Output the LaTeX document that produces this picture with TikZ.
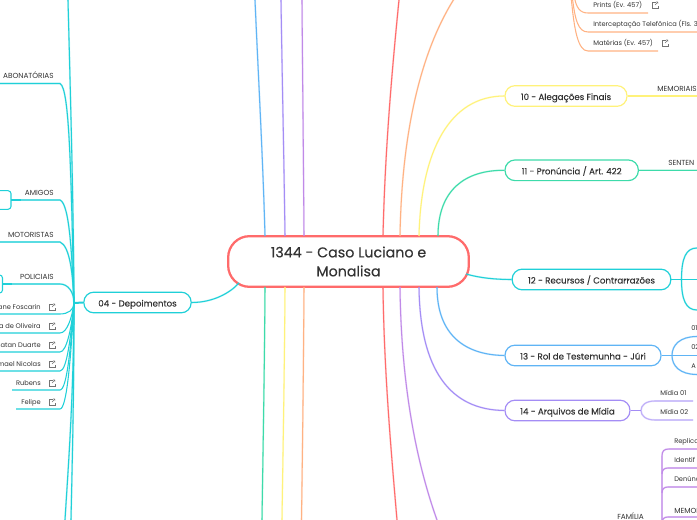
\documentclass[tikz,border=0pt]{standalone}
\usepackage{fontspec}
\setmainfont{Poppins}
\newfontfamily\hubfont[FakeBold=0.25]{Poppins}
\definecolor{cred}{HTML}{FF6B6B}
\definecolor{ccy}{HTML}{1FD0D8}
\definecolor{cyel}{HTML}{FFF27A}
\definecolor{cgrn}{HTML}{3DDBAA}
\definecolor{cblu}{HTML}{5FB4F5}
\definecolor{cvio}{HTML}{A48DF5}
\definecolor{cpur}{HTML}{C08AE8}
\definecolor{corg}{HTML}{FFB283}
\definecolor{ctxt}{HTML}{333333}
\tikzset{
  branch/.style={draw=#1,line width=0.9pt,fill=white,rectangle,rounded corners=7.5pt,minimum height=15.5pt,inner sep=0pt,text=ctxt,text height=6pt,text depth=0pt,font=\hubfont\fontsize{6.5pt}{9pt}\selectfont},
  hub/.style={draw=cred,line width=1.7pt,fill=white,rectangle,rounded corners=16pt,minimum width=180.5pt,minimum height=38pt,align=center,inner sep=0pt,text=ctxt,font=\hubfont\fontsize{10.7pt}{14.2pt}\selectfont},
  lnk/.style={draw=#1,line width=0.8pt,preaction={draw=#1,line width=1.4pt,opacity=.25}},
  sublnk/.style={draw=#1,line width=0.8pt},
  leaf/.style={inner sep=0pt,text=ctxt,text height=3.6pt,text depth=1.2pt,yshift=-0.5pt,font=\fontsize{5pt}{6pt}\selectfont},
  capt/.style={inner sep=0pt,text=ctxt,text height=3.6pt,text depth=1.2pt,yshift=-0.8pt,font=\fontsize{5.5pt}{6pt}\selectfont},
  extico/.pic={
    \draw[line width=0.3pt,draw=black!55] (1,-3) -- (-3,-3) -- (-3,3) -- (3,3) -- (3,1);
    \draw[line width=0.3pt,draw=black!55] (0,0) -- (3,-3) (1,-3.2) -- (3,-3) -- (3,-1);
  }
}
\begin{document}
\begin{tikzpicture}[x=0.75pt,y=-0.75pt]
\useasboundingbox (0,0) rectangle (697,520);
\clip (0,0) rectangle (697,520);
% nodes
\node[hub] (ctr) at (348.5,261.5) {1344 - Caso Luciano e\\Monalisa};
\node[branch=ccy,minimum width=80.5pt] (n04) at (137.5,302.5) {04 - Depoimentos};
\node[branch=cyel,minimum width=91.5pt] (n10) at (566,96) {10 - Alegações Finais};
\node[branch=cgrn,minimum width=100pt] (n11) at (571.7,170.3) {11 - Pronúncia / Art. 422};
\node[branch=ccy,minimum width=119pt] (n12) at (591.5,279.5) {12 - Recursos / Contrarrazões};
\node[branch=cblu,minimum width=117pt] (n13) at (583,355.5) {13 - Rol de Testemunha - Júri};
\node[branch=cvio,minimum width=93.7pt] (n14) at (567.5,410.5) {14 - Arquivos de Mídia};
% anchor points on the central node
\coordinate (cN1) at (265,236); \coordinate (cN2) at (285,236); \coordinate (cN3) at (304,236);
\coordinate (cN4) at (383,236); \coordinate (cN5) at (400,236); \coordinate (cN6) at (419,236); \coordinate (cN7) at (438,236);
\coordinate (cS1) at (265,287); \coordinate (cS2) at (285,287); \coordinate (cS3) at (304,287);
\coordinate (cS4) at (383,287); \coordinate (cS5) at (400,287); \coordinate (cS6) at (419,287); \coordinate (cS7) at (437,287);
\coordinate (J) at (74,303);
% main links
\draw[lnk=cblu] (cN1) .. controls (263,160) and (258,70) .. (255,0);
\draw[lnk=cvio] (cN2) .. controls (284,160) and (282,70) .. (281,0);
\draw[lnk=cpur] (cN3) .. controls (303.5,160) and (302.5,70) .. (302,0);
\draw[lnk=cred] (cN4) .. controls (385,150) and (392,70) .. (399,0);
\draw[lnk=corg] (cN5) .. controls (402,120) and (425,40) .. (460,-10);
\draw[lnk=cyel] (cN6) .. controls (421,150) and (450,96) .. (n10.west);
\draw[lnk=cgrn] (cN7) .. controls (438,190) and (465,170) .. (n11.west);
\draw[lnk=ccy] (466,274) .. controls (480,278) and (495,279.5) .. (n12.west);
\draw[lnk=cblu] (cS7) .. controls (437,335) and (465,355) .. (n13.west);
\draw[lnk=cvio] (cS6) .. controls (420,370) and (450,410) .. (n14.west);
\draw[lnk=cpur] (cS5) .. controls (401,370) and (412,450) .. (437,520);
\draw[lnk=cred] (cS4) .. controls (384,370) and (391,450) .. (397,520);
\draw[lnk=cgrn] (cS1) .. controls (264.5,370) and (263,450) .. (262,520);
\draw[lnk=cyel] (cS2) .. controls (284.5,370) and (283,450) .. (282,520);
\draw[lnk=corg] (cS3) .. controls (303.5,370) and (302.5,450) .. (301.5,520);
\draw[lnk=ccy] (n04.east) .. controls (213,302.5) and (230,293) .. (239,283);
% left trunk
\draw[ccy,line width=1.5pt] (n04.west) -- (J);
\draw[lnk=ccy] (J) .. controls (73.5,200) and (70,80) .. (68,0);
\draw[lnk=ccy] (J) .. controls (73.5,400) and (68,470) .. (65,520);
\draw[lnk=ccy] (J) .. controls (74,400) and (72,470) .. (71,520);
\draw[lnk=ccy] (0,83.5) -- (60,83.5) .. controls (70,88) and (71,180) .. (J);
\draw[lnk=ccy] (21,200) -- (60,200) .. controls (70,204) and (72,260) .. (J);
\draw[lnk=ccy] (0,242) -- (60,242) .. controls (70,246) and (73,275) .. (J);
\draw[lnk=ccy] (12,284) -- (60,284) .. controls (68,284) and (74,292) .. (J);
\draw[sublnk=ccy] (0,314) -- (60,314) .. controls (68,314) and (74,310) .. (J);
\draw[sublnk=ccy] (0,333) -- (60,333) .. controls (67,333) and (72,318) .. (J);
\draw[sublnk=ccy] (0,352) -- (60,352) .. controls (67,352) and (72,325) .. (J);
\draw[sublnk=ccy] (0,371) -- (60,371) .. controls (67,371) and (71,335) .. (J);
\draw[sublnk=ccy] (12,390) -- (60,390) .. controls (67,390) and (71,345) .. (J);
\draw[sublnk=ccy] (16,409) -- (60,409) .. controls (67,409) and (71,355) .. (J);
% left brackets
\draw[ccy,line width=1.5pt] (11,200) -- (21,200);
\draw[sublnk=ccy,rounded corners=2.2pt] (0,190.7) -- (11,190.7) -- (11,209.3) -- (0,209.3);
\draw[ccy,line width=1.5pt] (2.5,284) -- (12,284);
\draw[sublnk=ccy,rounded corners=2.2pt] (-5,275) -- (2.5,275) -- (2.5,293) -- (-5,293);
% left labels
\node[capt,anchor=east] (tAbo) at (54,76) {ABONATÓRIAS};
\node[capt,anchor=east] (tAmi) at (54,192.5) {AMIGOS};
\node[capt,anchor=east] (tMot) at (54,234.5) {MOTORISTAS};
\node[capt,anchor=east] (tPol) at (54,276.5) {POLICIAIS};
\node[leaf,anchor=east] (tL1) at (41,307.5) {ane Foscarin};
\node[leaf,anchor=east] (tL2) at (41,326.5) {a de Oliveira};
\node[leaf,anchor=east] (tL3) at (41,345.5) {natan Duarte};
\node[leaf,anchor=east] (tL4) at (41,364.5) {mael Nicolas};
\node[leaf,anchor=east] (tL5) at (41,383.5) {Rubens};
\node[leaf,anchor=east] (tL6) at (41,402.5) {Felipe};
\foreach \yy in {307,326,345,364,383,402} {\pic at (52,\yy) {extico};}
% right top orange
\draw[sublnk=corg] (574,-5) .. controls (576,8) and (580,13) .. (588,13) -- (648,13);
\draw[sublnk=corg] (572,-5) .. controls (575,20) and (578,32) .. (588,32) -- (697,32);
\draw[sublnk=corg] (571,-5) .. controls (574,30) and (578,51) .. (588,51) -- (658,51);
\node[leaf,anchor=west] (tP) at (593,5.5) {Prints (Ev. 457)};
\node[leaf,anchor=west] (tI) at (593,24.5) {Interceptação Telefônica (Fls. 3};
\node[leaf,anchor=west] (tM) at (593,43.5) {Matérias (Ev. 457)};
\pic at (655,5) {extico};
\pic at (665,43) {extico};
% right branches
\draw[lnk=cyel] (n10.east) -- (697,96);
\draw[lnk=cgrn] (n11.east) -- (697,170.3);
\node[capt,anchor=west] (tMem) at (657,88.5) {MEMORIAIS};
\node[capt,anchor=west] (tSen) at (668,162.5) {SENTEN};
\draw[sublnk=ccy] (n12.east) -- (697,279.5);
\draw[lnk=ccy] (697,248) .. controls (686,248) and (681.5,258) .. (681.5,279.5) .. controls (681.5,300) and (686,310) .. (697,310);
\draw[sublnk=cblu] (n13.east) -- (697,355.5);
\draw[lnk=cblu] (697,336.5) .. controls (680,336.5) and (672,345) .. (672,355.5) .. controls (672,366) and (680,374.5) .. (697,374.5);
\node[leaf,anchor=west] (t01) at (691,328.5) {01};
\node[leaf,anchor=west] (t02) at (691,347.5) {02};
\node[leaf,anchor=west] (tA) at (691,366.5) {A};
\draw[sublnk=cvio] (n14.east) -- (641,410.5);
\draw[lnk=cvio,opacity=.6] (693,401) -- (655,401) .. controls (646,401) and (641,405) .. (641,410.5) .. controls (641,416) and (646,420) .. (655,420) -- (693,420);
\node[leaf,anchor=west] (tM1) at (660,393.5) {Mídia 01};
\node[leaf,anchor=west] (tM2) at (660,412.5) {Mídia 02};
\pic at (700,393) {extico};
% lower right purple
\draw[lnk=cpur] (697,449) -- (669,449) .. controls (664,449) and (662,451) .. (662,456) -- (662,525);
\draw[lnk=cpur] (697,468) -- (668,468) .. controls (664,468) and (662,470) .. (662,474);
\draw[lnk=cpur] (697,487) -- (668,487) .. controls (664,487) and (662,489) .. (662,493);
\draw[lnk=cpur] (697,517) -- (668,517) .. controls (664,517) and (662,519) .. (662,523);
\node[leaf,anchor=west] (tR) at (674,441.5) {Replica};
\node[leaf,anchor=west] (tId) at (674,460.5) {Identif};
\node[leaf,anchor=west] (tDe) at (674,479.5) {Denúnc};
\node[capt,anchor=west] (tMe) at (674,510.5) {MEMOR};
\node[capt,anchor=west] (tFa) at (617,517) {FAMÍLIA};
\end{tikzpicture}
\end{document}
